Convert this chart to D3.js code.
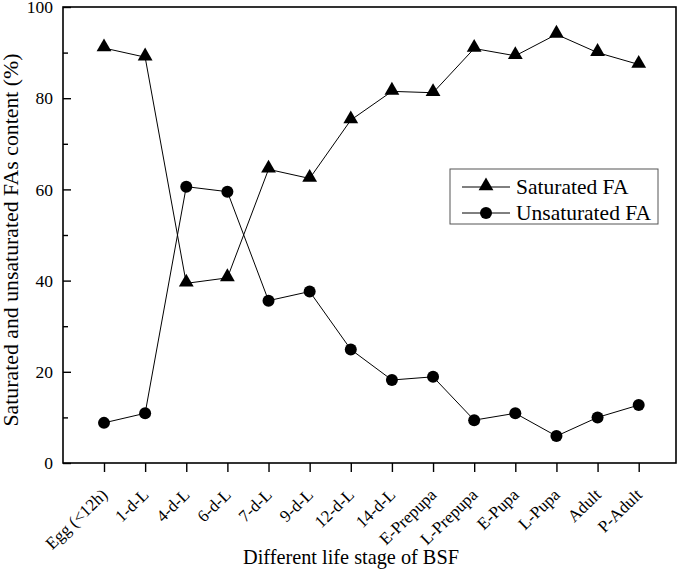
<!DOCTYPE html>
<html><head><meta charset="utf-8">
<script src="https://cdn.jsdelivr.net/npm/d3@7"></script>
<style>html,body{margin:0;padding:0;background:#fff;} svg text{font-family:"Liberation Serif", serif !important;}</style>
</head><body>
<svg id="c" width="677" height="570"></svg>
<script>
const categories = ["Egg (<12h)","1-d-L","4-d-L","6-d-L","7-d-L","9-d-L","12-d-L","14-d-L","E-Prepupa","L-Prepupa","E-Pupa","L-Pupa","Adult","P-Adult"];
const saturated = [91.0, 89.0, 39.4, 40.6, 64.4, 62.4, 75.2, 81.5, 81.2, 90.9, 89.3, 94.0, 90.0, 87.4];
const unsaturated = [8.8, 10.9, 60.6, 59.5, 35.6, 37.6, 24.9, 18.2, 18.9, 9.4, 10.9, 5.9, 10.0, 12.7];
const yTicks = [0, 20, 40, 60, 80, 100];
const yMinor = [10, 30, 50, 70, 90];
const seriesNames = ["Saturated FA", "Unsaturated FA"];

const svg = d3.select("#c");
const font = "Liberation Serif";
const L = 63, R = 676, T = 7, B = 463;
const x = d3.scaleLinear().domain([0, 13]).range([104, 638.7]);
const y = d3.scaleLinear().domain([0, 100]).range([B, T]);

// frame
svg.append("rect").attr("x", L).attr("y", T).attr("width", R - L).attr("height", B - T)
  .attr("fill", "none").attr("stroke", "#000").attr("stroke-width", 1.6);

// y axis
const yAxis = d3.axisLeft(y).tickValues(yTicks).tickSize(-8).tickPadding(10).tickFormat(d3.format("d"));
const gy = svg.append("g").attr("transform", `translate(${L},0)`).call(yAxis);
gy.select(".domain").remove();
gy.selectAll("line").attr("stroke-width", 1.4);
gy.selectAll("text").style("font-family", font).attr("font-size", 17.5).attr("fill", "#000");
const gym = svg.append("g").attr("transform", `translate(${L},0)`)
  .call(d3.axisLeft(y).tickValues(yMinor).tickSize(-5).tickFormat(""));
gym.select(".domain").remove();
gym.selectAll("line").attr("stroke-width", 1.4);

// x axis
const gx = svg.append("g").attr("transform", `translate(0,${B})`)
  .call(d3.axisBottom(x).tickValues(d3.range(categories.length)).tickSize(9).tickFormat(i => categories[i]));
gx.select(".domain").remove();
gx.selectAll("line").attr("stroke-width", 1.4);
gx.selectAll("text").style("font-family", font).attr("font-size", 17).attr("fill", "#000")
  .attr("text-anchor", "end").attr("dy", 0).attr("y", 0)
  .attr("transform", "translate(4,33) rotate(-44)");

// titles
svg.append("text").attr("x", 351).attr("y", 564).attr("text-anchor", "middle")
  .style("font-family", font).attr("font-size", 20.3).text("Different life stage of BSF");
svg.append("text").attr("transform", "translate(17.5,240) rotate(-90)").attr("text-anchor", "middle")
  .style("font-family", font).attr("font-size", 21.8).text("Saturated and unsaturated FAs content (%)");

const line = d3.line().x((d, i) => x(i)).y(d => y(d));
const tri = d3.symbol().type(d3.symbolTriangle).size(95);

function drawSeries(vals, kind) {
  svg.append("path").datum(vals).attr("d", line).attr("fill", "none").attr("stroke", "#000").attr("stroke-width", 1);
  if (kind === "tri") {
    svg.selectAll(null).data(vals).enter().append("path").attr("d", tri)
      .attr("transform", (d, i) => `translate(${x(i)},${y(d) - 1})`).attr("fill", "#000");
  } else {
    svg.selectAll(null).data(vals).enter().append("circle")
      .attr("cx", (d, i) => x(i)).attr("cy", d => y(d)).attr("r", 6).attr("fill", "#000");
  }
}
drawSeries(saturated, "tri");
drawSeries(unsaturated, "circ");

// legend
const lg = svg.append("g");
lg.append("rect").attr("x", 450).attr("y", 169).attr("width", 208).attr("height", 55)
  .attr("fill", "#fff").attr("stroke", "#555").attr("stroke-width", 1);
seriesNames.forEach((n, k) => {
  const yy = 187 + k * 26;
  lg.append("line").attr("x1", 462).attr("x2", 510).attr("y1", yy).attr("y2", yy).attr("stroke", "#000").attr("stroke-width", 1);
  if (k === 0) lg.append("path").attr("d", tri).attr("transform", `translate(486,${yy - 1})`).attr("fill", "#000");
  else lg.append("circle").attr("cx", 486).attr("cy", yy).attr("r", 6).attr("fill", "#000");
  lg.append("text").attr("x", 516).attr("y", yy + 7).style("font-family", font).attr("font-size", 21.5).text(n);
});
</script>
</body></html>
